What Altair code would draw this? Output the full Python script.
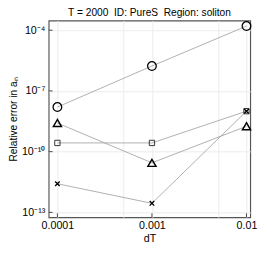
import altair as alt
import pandas as pd

dts = [0.0001, 0.001, 0.01]
circle_vals = [1.6e-8, 1.7e-6, 1.6e-4]
triangle_vals = [2.6e-9, 2.8e-11, 1.8e-9]
square_vals = [2.7e-10, 2.7e-10, 1.0e-8]
cross_vals = [2.6e-12, 2.8e-13, 1.0e-8]

series = {"circle": circle_vals, "triangle": triangle_vals, "square": square_vals, "cross": cross_vals}
rows = []
for name, vals in series.items():
    for d, v in zip(dts, vals):
        rows.append({"dT": d, "err": v, "s": name})
df = pd.DataFrame(rows)

x_grid = [0.0001, 0.0005, 0.001, 0.005, 0.01]
y_ticks = [1e-4, 1e-7, 1e-10, 1e-13]

H = 203
xs = alt.Scale(type="log", domain=[8.09e-5, 0.01096], nice=False)
ys = alt.Scale(type="log", domain=[5.75e-14, 3.0e-4], nice=False)

label_expr_y = ("datum.value > 1e-5 ? '10⁻⁴' : datum.value > 1e-8 ? '10⁻⁷' : "
                "datum.value > 1e-11 ? '10⁻¹⁰' : '10⁻¹³'")
label_expr_x = ("abs(datum.value-0.0001)<1e-9 ? '0.0001' : abs(datum.value-0.001)<1e-8 ? '0.001' : "
                "abs(datum.value-0.01)<1e-7 ? '0.01' : ''")

X = alt.X("dT:Q", scale=xs, title="dT",
          axis=alt.Axis(values=x_grid, labelExpr=label_expr_x, ticks=False, domain=False,
                        gridColor="#ebebeb", labelFontSize=11, labelColor="black",
                        titleFontSize=11, titleFontWeight="normal", labelPadding=3, titlePadding=2,
                        labelFont="Liberation Sans", titleFont="Liberation Sans", titleColor="black"))
Y = alt.Y("err:Q", scale=ys, title="Relative error in aₙ",
          axis=alt.Axis(values=y_ticks, labelExpr=label_expr_y, ticks=False, domain=False,
                        gridColor="#ebebeb", labelFontSize=11, labelColor="black",
                        titleFontSize=10.5, titleFontWeight="normal", labelPadding=4,
                        titleX=-41, titleBaseline="top",
                        labelFont="Liberation Sans", titleFont="Liberation Sans", titleColor="black"))

base = alt.Chart(df)

lines = base.mark_line(color="#9a9a9a", strokeWidth=0.8).encode(x=X, y=Y, detail="s:N")

circ = base.transform_filter("datum.s=='circle'").mark_point(
    shape="circle", size=80, filled=False, color="black", strokeWidth=1.3, opacity=1).encode(x="dT:Q", y="err:Q")
tri = base.transform_filter("datum.s=='triangle'").mark_point(
    shape="triangle-up", size=70, filled=False, color="black", strokeWidth=1.5, opacity=1).encode(x="dT:Q", y="err:Q")
sq = base.transform_filter("datum.s=='square'").mark_point(
    shape="square", size=30, filled=False, color="#333", strokeWidth=1, opacity=1).encode(x="dT:Q", y="err:Q")
cr = base.transform_filter("datum.s=='cross'").mark_point(
    shape="M-1,-1L1,1M-1,1L1,-1", size=22, filled=False, color="black", strokeWidth=1.4, opacity=1).encode(x="dT:Q", y="err:Q")

xt = pd.DataFrame({"dT": dts})
xticks = alt.Chart(xt).mark_rule(color="#444", strokeWidth=1).encode(
    x="dT:Q", y=alt.value(H), y2=alt.value(H - 4))
yt = pd.DataFrame({"err": y_ticks})
yticks = alt.Chart(yt).mark_rule(color="#444", strokeWidth=1).encode(
    y="err:Q", x=alt.value(0), x2=alt.value(4))

chart = alt.layer(lines, xticks, yticks, circ, tri, sq, cr).properties(
    width=208, height=H,
    autosize=alt.AutoSizeParams(type="none"),
    padding={"left": 42, "top": 9, "right": 8, "bottom": 35},
    title=alt.TitleParams("T\u00a0=\u00a02000\u00a0\u00a0ID:\u00a0PureS\u00a0\u00a0Region:\u00a0soliton",
                          fontSize=10.5, fontWeight="normal", font="Liberation Sans", offset=1,
                          color="black"),
).configure_view(stroke="#555", strokeWidth=1.2)

chart.save("out.html", embed_options={"renderer": "svg", "actions": False})
